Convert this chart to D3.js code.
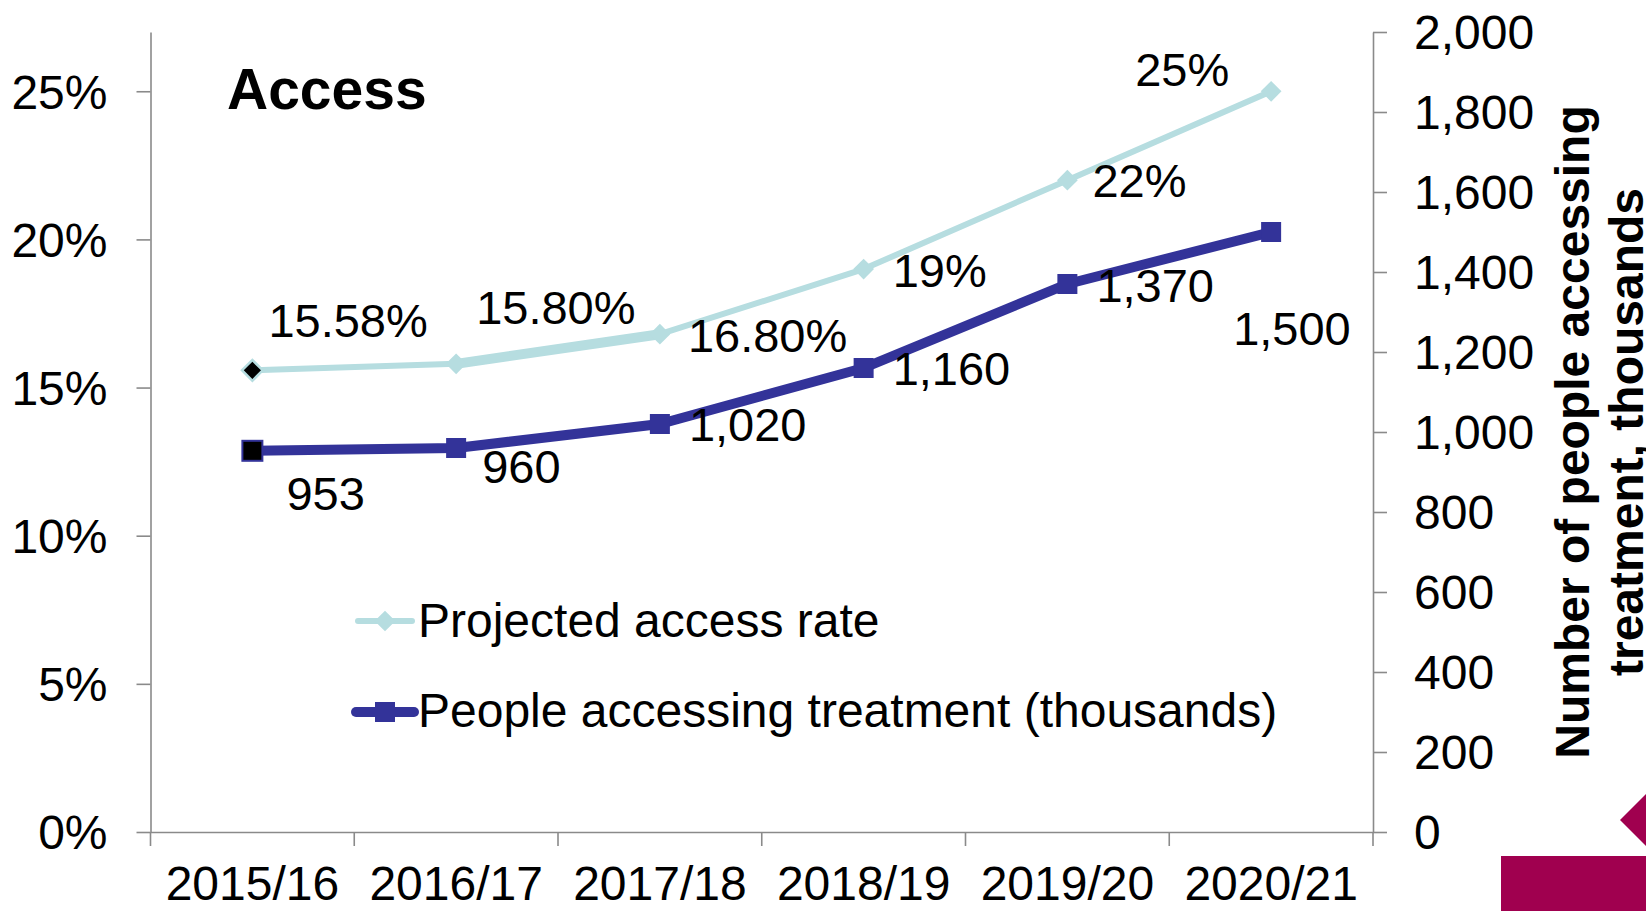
<!DOCTYPE html>
<html>
<head>
<meta charset="utf-8">
<script src="https://cdn.jsdelivr.net/npm/d3@7"></script>
<style>
  html, body { margin: 0; padding: 0; background: #fff; }
  svg { display: block; font-family: "Liberation Sans", Arial, Helvetica, sans-serif; }
</style>
</head>
<body>
<svg id="chart" width="1646" height="911"></svg>
<script>
// ---- data ----
const categories = ["2015/16", "2016/17", "2017/18", "2018/19", "2019/20", "2020/21"];
const accessRate = [0.1558, 0.158, 0.168, 0.19, 0.22, 0.25];
const accessLabels = ["15.58%", "15.80%", "16.80%", "19%", "22%", "25%"];
const people = [953, 960, 1020, 1160, 1370, 1500];
const leftTicks = [0, 0.05, 0.10, 0.15, 0.20, 0.25];
const rightTicks = [0, 200, 400, 600, 800, 1000, 1200, 1400, 1600, 1800, 2000];
const seriesNames = ["Projected access rate", "People accessing treatment (thousands)"];

// ---- layout / style ----
const W = 1646, H = 911;
const plot = { left: 150.5, right: 1373, top: 32, bottom: 832 };
const AXIS_FONT = 48;
const LABEL_FONT = 47;
const LEGEND_FONT = 48;
const colAccess = "#b6dde0";
const colPeople = "#333399";
const axisCol = "#8a8a8a";
// manual data-label offsets (dx, baseline dy) relative to each point
const accessLabelOff = [[16, -33], [20, -40], [28, 18], [29, 18], [25, 17], [-136, -5]];
const peopleLabelOff = [[34, 59], [26, 35], [29, 17], [29, 17], [29, 18], [-38, 113]];
const accessSegWidth = [6, 10, 6, 6, 6];

const svg = d3.select("#chart");

const x = d3.scaleBand().domain(categories).range([plot.left, plot.right]).padding(0);
const cx = c => x(c) + x.bandwidth() / 2;
const yL = d3.scaleLinear().domain([0, 0.27]).range([plot.bottom, plot.top]);
const yR = d3.scaleLinear().domain([0, 2000]).range([plot.bottom, plot.top]);

// ---- axes ----
const gLeft = svg.append("g").attr("transform", `translate(${plot.left},0)`)
  .call(d3.axisLeft(yL).tickValues(leftTicks).tickFormat(d3.format(".0%"))
    .tickSize(14).tickSizeOuter(0).tickPadding(29));
const gRight = svg.append("g").attr("transform", `translate(${plot.right},0)`)
  .call(d3.axisRight(yR).tickValues(rightTicks).tickFormat(d3.format(","))
    .tickSize(14).tickSizeOuter(0).tickPadding(27));
const gBottom = svg.append("g").attr("transform", `translate(0,${plot.bottom})`)
  .call(d3.axisBottom(x).tickSize(0).tickSizeOuter(0).tickPadding(34));

[gLeft, gRight, gBottom].forEach(g => {
  g.selectAll("path.domain").attr("stroke", axisCol).attr("stroke-width", 1.6);
  g.selectAll(".tick line").attr("stroke", axisCol).attr("stroke-width", 1.6);
  g.selectAll(".tick text").attr("font-size", AXIS_FONT).attr("fill", "#000")
    .attr("font-family", "'Liberation Sans', Arial, sans-serif");
});
gLeft.selectAll(".tick text").attr("dy", "0.35em");
gRight.selectAll(".tick text").attr("dy", "0.35em");
gBottom.selectAll(".tick text").attr("dy", "0.71em");

// category boundary ticks on x axis
const bounds = categories.map(c => x(c)).concat([x(categories[categories.length - 1]) + x.bandwidth()]);
gBottom.selectAll("line.bound").data(bounds).enter().append("line")
  .attr("class", "bound")
  .attr("x1", d => d).attr("x2", d => d).attr("y1", 0).attr("y2", 14)
  .attr("stroke", axisCol).attr("stroke-width", 1.6);

// ---- title ----
svg.append("text").attr("x", 227).attr("y", 109)
  .attr("font-size", 57).attr("font-weight", "bold").attr("fill", "#000").text("Access");

// ---- right axis title ----
const rt = svg.append("text")
  .attr("transform", "translate(1589,432) rotate(-90)")
  .attr("text-anchor", "middle").attr("font-size", 48).attr("font-weight", "bold").attr("fill", "#000");
rt.append("tspan").attr("x", 0).attr("y", 0).text("Number of people accessing");
rt.append("tspan").attr("x", 0).attr("y", 54).text("treatment, thousands");

// ---- series: projected access rate ----
const accPts = categories.map((c, i) => [cx(c), yL(accessRate[i])]);
const segs = d3.pairs(accPts);
svg.append("g").selectAll("line").data(segs).enter().append("line")
  .attr("x1", d => d[0][0]).attr("y1", d => d[0][1])
  .attr("x2", d => d[1][0]).attr("y2", d => d[1][1])
  .attr("stroke", colAccess).attr("stroke-width", (d, i) => accessSegWidth[i])
  .attr("stroke-linecap", "round");

const diamond = d3.symbol().type(d3.symbolSquare).size(215);
svg.append("g").selectAll("path").data(accPts).enter().append("path")
  .attr("d", diamond)
  .attr("transform", d => `translate(${d[0]},${d[1]}) rotate(45)`)
  .attr("fill", (d, i) => i === 0 ? "#000" : colAccess)
  .attr("stroke", colAccess).attr("stroke-width", (d, i) => i === 0 ? 2.5 : 0);

// ---- series: people ----
const line = d3.line().x((d, i) => cx(categories[i])).y(d => yR(d));
svg.append("path").datum(people).attr("d", line)
  .attr("fill", "none").attr("stroke", colPeople).attr("stroke-width", 10)
  .attr("stroke-linejoin", "round").attr("stroke-linecap", "round");

const sq = 20;
svg.append("g").selectAll("rect").data(people).enter().append("rect")
  .attr("x", (d, i) => cx(categories[i]) - sq / 2)
  .attr("y", d => yR(d) - sq / 2)
  .attr("width", sq).attr("height", sq)
  .attr("fill", (d, i) => i === 0 ? "#000" : colPeople)
  .attr("stroke", colPeople).attr("stroke-width", (d, i) => i === 0 ? 2 : 0);

// ---- data labels ----
svg.append("g").selectAll("text").data(accessRate).enter().append("text")
  .attr("x", (d, i) => cx(categories[i]) + accessLabelOff[i][0])
  .attr("y", (d, i) => yL(d) + accessLabelOff[i][1])
  .attr("font-size", LABEL_FONT).attr("fill", "#000")
  .text((d, i) => accessLabels[i]);

const fmt = d3.format(",");
svg.append("g").selectAll("text").data(people).enter().append("text")
  .attr("x", (d, i) => cx(categories[i]) + peopleLabelOff[i][0])
  .attr("y", (d, i) => yR(d) + peopleLabelOff[i][1])
  .attr("font-size", LABEL_FONT).attr("fill", "#000")
  .text(d => fmt(d));

// ---- legend ----
const leg = svg.append("g");
// projected
leg.append("line").attr("x1", 358).attr("x2", 412).attr("y1", 621).attr("y2", 621)
  .attr("stroke", colAccess).attr("stroke-width", 6).attr("stroke-linecap", "round");
leg.append("path").attr("d", diamond).attr("transform", "translate(385,621) rotate(45)")
  .attr("fill", colAccess);
leg.append("text").attr("x", 418).attr("y", 637).attr("font-size", LEGEND_FONT).attr("fill", "#000")
  .text(seriesNames[0]);
// people
leg.append("line").attr("x1", 356).attr("x2", 414).attr("y1", 712).attr("y2", 712)
  .attr("stroke", colPeople).attr("stroke-width", 10).attr("stroke-linecap", "round");
leg.append("rect").attr("x", 375).attr("y", 702).attr("width", 20).attr("height", 20)
  .attr("fill", colPeople);
leg.append("text").attr("x", 418).attr("y", 727).attr("font-size", LEGEND_FONT).attr("fill", "#000")
  .text(seriesNames[1]);

// ---- decorative corner shapes ----
svg.append("rect").attr("x", 1501).attr("y", 856).attr("width", 145).attr("height", 55)
  .attr("fill", "#a0004f");
svg.append("polygon").attr("points", "1620,820 1647,793 1674,820 1647,847")
  .attr("fill", "#a0004f");
</script>
</body>
</html>
